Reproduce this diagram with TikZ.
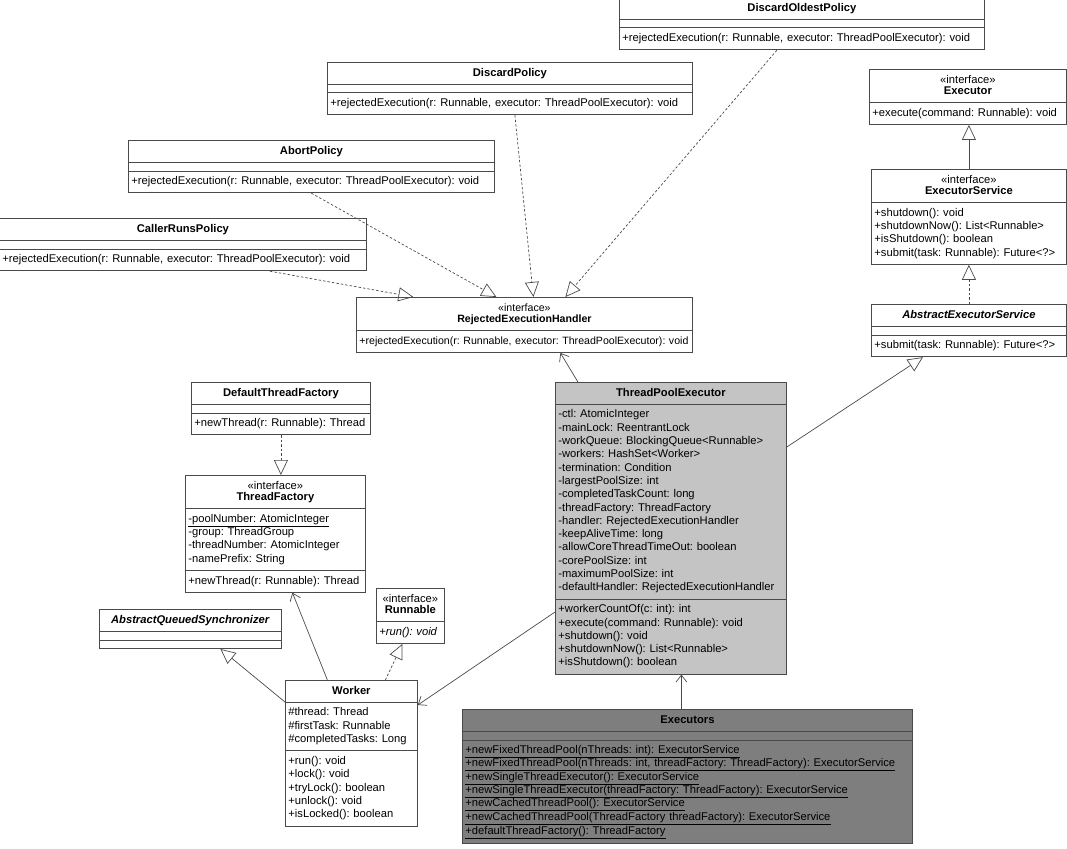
\documentclass[tikz,border=0pt]{standalone}
\usepackage{fontspec}
\setmainfont{Liberation Sans}
\usepackage{xcolor}
\definecolor{umlline}{HTML}{4A4A4A}
\definecolor{tpegray}{HTML}{C4C4C4}
\definecolor{exegray}{HTML}{7E7E7E}
\usepackage{tikz}
\usetikzlibrary{shapes.multipart, arrows.meta, calc}

\newcommand{\ctitle}[1]{\makebox[\hsize]{\strut\textbf{#1}}}
\newcommand{\cstereo}[1]{\makebox[\hsize]{\strut«interface»}\\[-2pt]\makebox[\hsize]{\strut\textbf{#1}}}

\begin{document}
\begin{tikzpicture}[x=1pt, y=-1pt,
  umlbox/.style={rectangle split, rectangle split parts=3, draw=umlline, line width=0.8pt,
    fill=white, anchor=north west, align=left, inner xsep=3pt, inner ysep=3.9pt,
    rectangle split empty part height=0pt,
    font=\fontsize{11.2}{13.3}\selectfont\frenchspacing},
  realize/.style={draw=umlline, line width=0.7pt, dash pattern=on 2.5pt off 2pt,
    -{Triangle[open, length=15pt, width=14pt]}},
  inherit/.style={draw=umlline, line width=0.7pt, -{Triangle[open, length=15pt, width=14pt]}},
  assoc/.style={draw=umlline, line width=0.7pt, -{Straight Barb[length=7pt, width=11pt]}}]

  \useasboundingbox (0,0) rectangle (1067,848);

  % rejection policies
  \node[umlbox, text width=359pt] (dop) at (619,-3)
    {\ctitle{DiscardOldestPolicy}\nodepart{two}\nodepart{three}\strut+rejectedExecution(r: Runnable, executor: ThreadPoolExecutor): void};
  \node[umlbox, text width=359pt] (dp) at (327,62)
    {\ctitle{DiscardPolicy}\nodepart{two}\nodepart{three}\strut+rejectedExecution(r: Runnable, executor: ThreadPoolExecutor): void};
  \node[umlbox, text width=360pt] (ap) at (128,140)
    {\ctitle{AbortPolicy}\nodepart{two}\nodepart{three}\strut+rejectedExecution(r: Runnable, executor: ThreadPoolExecutor): void};
  \node[umlbox, text width=361pt] (crp) at (-1,218)
    {\ctitle{CallerRunsPolicy}\nodepart{two}\nodepart{three}\strut+rejectedExecution(r: Runnable, executor: ThreadPoolExecutor): void};
  \node[umlbox, rectangle split parts=2, text width=330pt,
        font=\fontsize{10.6}{13.3}\selectfont\frenchspacing] (reh) at (356,297)
    {\cstereo{RejectedExecutionHandler}\nodepart{two}\strut+rejectedExecution(r: Runnable, executor: ThreadPoolExecutor): void};

  % executor interfaces
  \node[umlbox, rectangle split parts=2, text width=191pt] (exe) at (869,69)
    {\cstereo{Executor}\nodepart{two}\strut+execute(command: Runnable): void};
  \node[umlbox, rectangle split parts=2, text width=189pt] (exs) at (871,169)
    {\cstereo{ExecutorService}\nodepart{two}\strut+shutdown(): void\\
     +shutdownNow(): List<Runnable>\\
     +isShutdown(): boolean\\
     +submit(task: Runnable): Future<?>\strut};
  \node[umlbox, text width=189pt] (aes) at (871,304)
    {\makebox[\hsize]{\strut\textbf{\textit{AbstractExecutorService}}}\nodepart{two}\nodepart{three}\strut+submit(task: Runnable): Future<?>};

  % pool
  \node[umlbox, fill=tpegray, text width=225pt] (tpe) at (555,382)
    {\ctitle{ThreadPoolExecutor}\nodepart{two}\strut-ctl: AtomicInteger\\
     -mainLock: ReentrantLock\\
     -workQueue: BlockingQueue<Runnable>\\
     -workers: HashSet<Worker>\\
     -termination: Condition\\
     -largestPoolSize: int\\
     -completedTaskCount: long\\
     -threadFactory: ThreadFactory\\
     -handler: RejectedExecutionHandler\\
     -keepAliveTime: long\\
     -allowCoreThreadTimeOut: boolean\\
     -corePoolSize: int\\
     -maximumPoolSize: int\\
     -defaultHandler: RejectedExecutionHandler\strut
     \nodepart{three}\strut+workerCountOf(c: int): int\\
     +execute(command: Runnable): void\\
     +shutdown(): void\\
     +shutdownNow(): List<Runnable>\\
     +isShutdown(): boolean\strut};

  % thread factories
  \node[umlbox, text width=173pt] (dtf) at (191,382)
    {\ctitle{DefaultThreadFactory}\nodepart{two}\nodepart{three}\strut+newThread(r: Runnable): Thread};
  \node[umlbox, text width=174pt] (tf) at (185,475)
    {\cstereo{ThreadFactory}\nodepart{two}\strut\underline{-poolNumber: AtomicInteger}\\
     -group: ThreadGroup\\
     -threadNumber: AtomicInteger\\
     -namePrefix: String\strut
     \nodepart{three}\strut+newThread(r: Runnable): Thread};

  % worker and its parents
  \node[umlbox, rectangle split parts=2, text width=62pt] (run) at (376,588)
    {\cstereo{Runnable}\nodepart{two}\strut\textit{+run(): void}};
  \node[umlbox, text width=176pt] (aqs) at (99,609)
    {\makebox[\hsize]{\strut\textbf{\textit{AbstractQueuedSynchronizer}}}\nodepart{two}\nodepart{three}};
  \node[umlbox, text width=126pt] (wk) at (285,680)
    {\ctitle{Worker}\nodepart{two}\strut\#thread: Thread\\
     \#firstTask: Runnable\\
     \#completedTasks: Long\strut
     \nodepart{three}\strut+run(): void\\
     +lock(): void\\
     +tryLock(): boolean\\
     +unlock(): void\\
     +isLocked(): boolean\strut};

  % factory methods
  \node[umlbox, fill=exegray, text width=444pt] (exs2) at (462,709)
    {\ctitle{Executors}\nodepart{two}\nodepart{three}\strut\underline{+newFixedThreadPool(nThreads: int): ExecutorService}\\
     \underline{+newFixedThreadPool(nThreads: int, threadFactory: ThreadFactory): ExecutorService}\\
     \underline{+newSingleThreadExecutor(): ExecutorService}\\
     \underline{+newSingleThreadExecutor(threadFactory: ThreadFactory): ExecutorService}\\
     \underline{+newCachedThreadPool(): ExecutorService}\\
     \underline{+newCachedThreadPool(ThreadFactory threadFactory): ExecutorService}\\
     \underline{+defaultThreadFactory(): ThreadFactory}\strut};

  % connectors
  \draw[realize] ([xshift=-25pt]dop.south) -- ([xshift=41pt]reh.north);
  \draw[realize] ([xshift=5pt]dp.south) -- ([xshift=9pt]reh.north);
  \draw[realize] (ap.south) -- ([xshift=-28pt]reh.north);
  \draw[realize] ([xshift=87pt]crp.south) -- ([xshift=-111pt]reh.north);
  \draw[assoc] ([xshift=-93pt]tpe.north) -- ([xshift=36pt]reh.south);
  \draw[inherit] (exs.north) -- (exs.north |- exe.south);
  \draw[realize] (aes.north) -- (aes.north |- exs.south);
  \draw[inherit] ([yshift=-65pt]tpe.north east) -- ([xshift=-46pt]aes.south);
  \draw[realize] (dtf.south) -- (dtf.south |- tf.north);
  \draw[assoc] ([xshift=-24pt]wk.north) -- ([xshift=17pt]tf.south);
  \draw[inherit] ([yshift=-22pt]wk.north west) -- ([xshift=30pt]aqs.south);
  \draw[realize] ([xshift=34pt]wk.north) -- ([xshift=-8pt]run.south);
  \draw[assoc] ([yshift=-230pt]tpe.north west) -- ([yshift=-25pt]wk.north east);
  \draw[assoc] ([xshift=-6pt]exs2.north) -- ([xshift=-6pt]exs2.north |- tpe.south);
\end{tikzpicture}
\end{document}
